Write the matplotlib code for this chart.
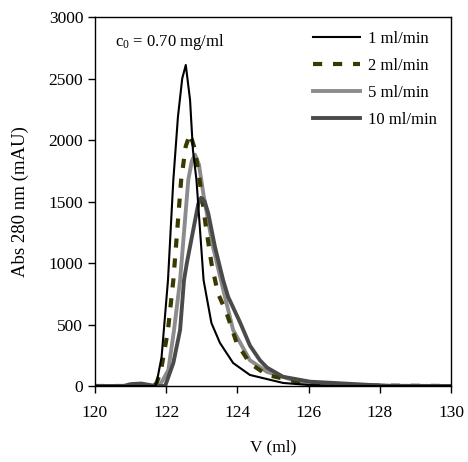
import matplotlib
matplotlib.use('Agg')
import matplotlib.pyplot as plt

plt.rcParams['font.family'] = 'Liberation Serif'
plt.rcParams['mathtext.fontset'] = 'custom'
plt.rcParams['mathtext.rm'] = 'Liberation Serif'
plt.rcParams['mathtext.it'] = 'Liberation Serif:italic'

# elution profiles: V (ml) vs Abs 280 nm (mAU)
v_1 = [120.0, 121.69, 121.73, 121.87, 122.05, 122.2, 122.33, 122.45, 122.55, 122.67,
       122.75, 122.85, 123.05, 123.27, 123.51, 123.88, 124.35, 125.28, 126.0, 126.7, 130.0]
a_1 = [0, 0, 25, 235, 860, 1675, 2190, 2500, 2610, 2325,
       1920, 1675, 860, 512, 350, 187, 90, 25, 8, 0, 0]

v_2 = [120.0, 121.65, 121.73, 121.85, 122.05, 122.2, 122.42, 122.55, 122.67, 122.81,
       122.98, 123.1, 123.27, 123.45, 123.7, 123.98, 124.35, 124.83, 125.76, 126.4, 130.0]
a_2 = [0, 0, 25, 120, 455, 860, 1675, 1950, 2050, 1920,
       1590, 1325, 1000, 756, 590, 350, 185, 90, 30, 5, 0]

v_5 = [120.0, 121.8, 121.91, 122.06, 122.22, 122.39, 122.5, 122.62, 122.72, 122.81,
       122.92, 123.05, 123.3, 123.65, 123.88, 124.35, 124.83, 125.76, 126.6, 130.0]
a_5 = [0, 0, 50, 130, 455, 860, 1250, 1675, 1830, 1880,
       1800, 1550, 1150, 725, 455, 210, 115, 30, 5, 0]

v_10 = [120.0, 120.8, 121.0, 121.3, 121.5, 121.7, 121.97, 122.2, 122.39, 122.5,
        122.58, 122.76, 122.9, 122.98, 123.08, 123.18, 123.37, 123.6, 123.74, 124.07,
        124.35, 124.63, 124.83, 125.28, 126.04, 126.69, 127.64, 128.3, 130.0]
a_10 = [0, 0, 15, 20, 10, 0, 0, 187, 455, 860,
        1000, 1270, 1480, 1530, 1500, 1405, 1130, 860, 725, 520,
        330, 210, 150, 75, 35, 25, 10, 0, 0]

labels = ['1 ml/min', '2 ml/min', '5 ml/min', '10 ml/min']

fig = plt.figure(figsize=(4.68, 4.62), dpi=100)
ax = fig.add_axes([0.203, 0.1645, 0.7607, 0.7987])

l5, = ax.plot(v_5, a_5, color='#8c8c8c', lw=2.8, label=labels[2])
l2, = ax.plot(v_2, a_2, color='#3a3a00', lw=3.0, dashes=(2.2, 2.6), label=labels[1])
l10, = ax.plot(v_10, a_10, color='#4a4a4a', lw=2.8, label=labels[3])
l1, = ax.plot(v_1, a_1, color='black', lw=1.5, label=labels[0])

ax.set_xlim(120, 130)
ax.set_ylim(0, 3000)
ax.set_xticks(range(120, 131, 2))
ax.set_yticks(range(0, 3001, 500))
ax.tick_params(direction='out', length=5, width=1, labelsize=12.5)
ax.tick_params(axis='x', pad=9)
for s in ax.spines.values():
    s.set_linewidth(1)

ax.set_xlabel('V (ml)', fontsize=12.5, labelpad=13)
ax.set_ylabel('Abs 280 nm (mAU)', fontsize=13.5, labelpad=14)

ax.text(0.056, 0.932, r'c$_0$ = 0.70 mg/ml', transform=ax.transAxes,
        fontsize=12, va='center', ha='left')

ax.legend(handles=[l1, l2, l5, l10], loc='upper left', bbox_to_anchor=(0.613, 0.962),
          frameon=False, fontsize=12, handlelength=2.8, handletextpad=0.5,
          labelspacing=0.65, borderpad=0, borderaxespad=0)

plt.savefig('out.png', dpi=100)
plt.close()
